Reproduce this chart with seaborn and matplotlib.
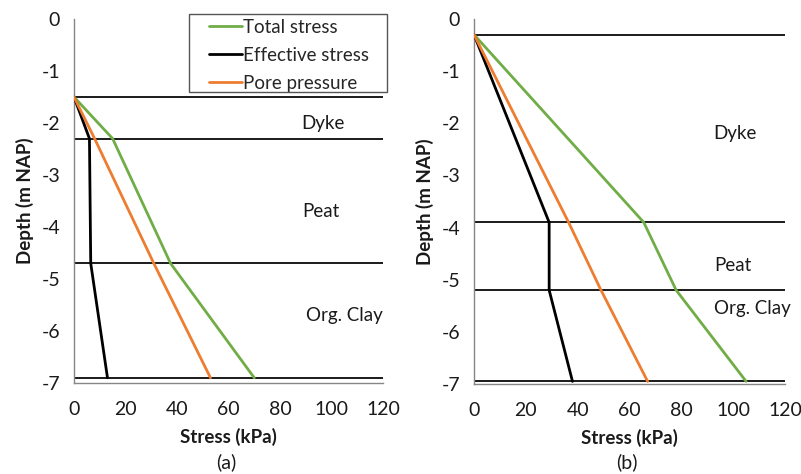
import matplotlib
matplotlib.use("Agg")
import matplotlib.pyplot as plt
from matplotlib.patches import Rectangle
import seaborn as sns
import pandas as pd

sns.set_theme(style="white")
plt.rcParams["font.family"] = ["Lato", "DejaVu Sans"]

series_names = ["Total stress", "Effective stress", "Pore pressure"]
series_colors = ["#70ad47", "#000000", "#ed7d31"]

# Panel (a): depth points (m NAP) and stresses (kPa)
depth_a = [-1.5, -2.3, -4.7, -6.9]
total_a = [0, 15, 37.5, 70]
effective_a = [0, 6, 6.5, 13]
pore_a = [0, 8, 31, 53]
layers_a = [-1.5, -2.3, -4.7, -6.9]
layer_names_a = ["Dyke", "Peat", "Org. Clay"]
layer_label_pos_a = [(96.5, -2.0), (96, -3.7), (105, -5.7)]

# Panel (b)
depth_b = [-0.3, -3.9, -5.2, -6.95]
total_b = [0, 65.5, 78, 105]
effective_b = [0, 29, 29, 38]
pore_b = [0, 36.5, 49, 67]
layers_b = [-0.3, -3.9, -5.2, -6.95]
layer_names_b = ["Dyke", "Peat", "Org. Clay"]
layer_label_pos_b = [(100.5, -2.2), (100, -4.72), (107.5, -5.55)]

x_ticks = [0, 20, 40, 60, 80, 100, 120]
y_ticks = [0, -1, -2, -3, -4, -5, -6, -7]

FS = 13.5
TEXT = "#1a1a1a"


def long_frame(depth, total, effective, pore):
    rows = []
    for name, vals in zip(series_names, [total, effective, pore]):
        for i, (d, v) in enumerate(zip(depth, vals)):
            rows.append({"series": name, "order": i, "stress": v, "depth": d})
    return pd.DataFrame(rows)


fig = plt.figure(figsize=(8.01, 4.74), dpi=100)
ax_a = fig.add_axes([74 / 801, 1 - 383 / 474, 309 / 801, 364 / 474])
ax_b = fig.add_axes([474 / 801, 1 - 384 / 474, 311 / 801, 365 / 474])

panels = [
    (ax_a, long_frame(depth_a, total_a, effective_a, pore_a), layers_a, layer_names_a, layer_label_pos_a, "(a)"),
    (ax_b, long_frame(depth_b, total_b, effective_b, pore_b), layers_b, layer_names_b, layer_label_pos_b, "(b)"),
]

for ax, df, layers, names, positions, tag in panels:
    ax.hlines(layers, 0, 120, colors="#1a1a1a", linewidth=1.4, zorder=2)
    sns.lineplot(data=df, x="stress", y="depth", hue="series", hue_order=series_names,
                 palette=series_colors, sort=False, estimator=None, units="series",
                 linewidth=2.0, ax=ax, legend=(ax is ax_a), zorder=3)
    for name, (lx, ly) in zip(names, positions):
        ax.text(lx, ly, name, ha="center", va="center", fontsize=FS, color=TEXT)
    ax.set_xlim(0, 120)
    ax.set_ylim(-7, 0)
    ax.set_xticks(x_ticks)
    ax.set_yticks(y_ticks)
    ax.set_xticklabels([str(t) for t in x_ticks])
    ax.set_yticklabels([str(t) for t in y_ticks])
    for side in ["top", "right"]:
        ax.spines[side].set_visible(False)
    for side in ["left", "bottom"]:
        ax.spines[side].set_color("#868686")
        ax.spines[side].set_linewidth(1.0)
    ax.tick_params(axis="both", direction="out", length=5, width=1.0, color="#868686",
                   labelsize=14, labelcolor=TEXT, pad=5)
    ax.tick_params(axis="x", pad=8)
    ax.set_xlabel("Stress (kPa)", fontsize=FS, fontweight="bold", color=TEXT, labelpad=7)
    ax.set_ylabel("Depth (m NAP)", fontsize=FS, fontweight="bold", color=TEXT, labelpad=5)
    ax.patch.set_alpha(0)
    bbox = ax.get_position()
    fig.text((bbox.x0 + bbox.x1) / 2 - 0.003, 1 - 462 / 474, tag, ha="center", va="center",
             fontsize=14, color=TEXT)

# Legend: entries without their own frame, boxed by a fixed rectangle
leg = ax_a.legend(loc="upper left", bbox_to_anchor=(209 / 801, 1 - 19 / 474),
                  bbox_transform=fig.transFigure, frameon=False,
                  fontsize=FS, handlelength=1.75, handletextpad=0.05, borderpad=0,
                  labelspacing=0.58, borderaxespad=0)
leg.set_title(None)
fig.patches.append(Rectangle((189 / 801, 1 - 92 / 474), 198 / 801, 78 / 474,
                             transform=fig.transFigure, fill=False,
                             edgecolor="#555555", linewidth=1.0, zorder=5))

fig.savefig("out.png", dpi=100)
